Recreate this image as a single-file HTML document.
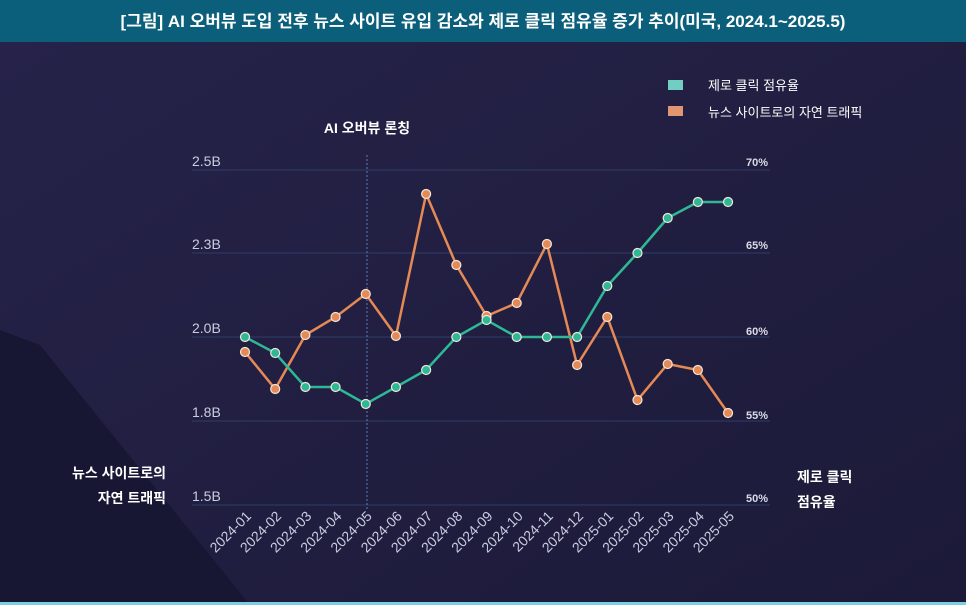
<!DOCTYPE html>
<html><head><meta charset="utf-8"><style>
body{margin:0;width:966px;height:605px;overflow:hidden;background:#1f1d3e;font-family:"Liberation Sans","Noto Sans CJK KR",sans-serif}
</style></head><body>
<svg width="966" height="605" xmlns="http://www.w3.org/2000/svg" style="position:absolute;left:0;top:0">
<defs><linearGradient id="bg" x1="0" y1="0" x2="1" y2="1"><stop offset="0" stop-color="#26234a"/><stop offset="1" stop-color="#1c1a38"/></linearGradient></defs>
<rect x="0" y="0" width="966" height="605" fill="url(#bg)"/>
<polygon points="0,330 40,345 250,605 0,605" fill="#181733"/>
<rect x="0" y="0" width="966" height="42" fill="#0b5f7a"/>
<rect x="0" y="602" width="966" height="3" fill="#7ccfe0"/>
<text x="483" y="27" fill="#fff" font-size="17" font-weight="bold" text-anchor="middle">[그림] AI 오버뷰 도입 전후 뉴스 사이트 유입 감소와 제로 클릭 점유율 증가 추이(미국, 2024.1~2025.5)</text>
<g stroke="#2e3d66" stroke-width="1">
<line x1="192" y1="170" x2="770" y2="170"/><line x1="192" y1="253" x2="770" y2="253"/><line x1="192" y1="337" x2="770" y2="337"/><line x1="192" y1="421" x2="770" y2="421"/><line x1="192" y1="505" x2="770" y2="505"/>
</g>
<line x1="367" y1="155" x2="367" y2="510" stroke="#5d7db8" stroke-width="1" stroke-dasharray="2,2"/>
<g fill="#c9cde0" font-size="14">
<text x="192" y="166">2.5B</text><text x="192" y="249">2.3B</text><text x="192" y="333">2.0B</text><text x="192" y="417">1.8B</text><text x="192" y="501">1.5B</text>
</g>
<g fill="#d8dbe8" font-size="11" font-weight="bold" text-anchor="end">
<text x="768" y="166">70%</text><text x="768" y="249">65%</text><text x="768" y="335">60%</text><text x="768" y="419">55%</text><text x="768" y="502">50%</text>
</g>
<text x="367" y="133" fill="#fff" font-size="14" font-weight="bold" text-anchor="middle">AI 오버뷰 론칭</text>
<g fill="#fff" font-size="14" font-weight="bold" text-anchor="end">
<text x="166" y="478">뉴스 사이트로의</text><text x="166" y="503">자연 트래픽</text>
</g>
<g fill="#fff" font-size="14" font-weight="bold">
<text x="797" y="482">제로 클릭</text><text x="797" y="507">점유율</text>
</g>
<rect x="668" y="80" width="15" height="10" fill="#72cdc2"/>
<text x="708" y="90" fill="#fff" font-size="13">제로 클릭 점유율</text>
<rect x="668" y="106" width="15" height="10" fill="#e09670"/>
<text x="708" y="117" fill="#fff" font-size="13">뉴스 사이트로의 자연 트래픽</text>
<g id="lines"></g>
<g id="labels" fill="#c9cde0" font-size="14"></g>
</svg>
<script>
var g=[337,353,387,387,404,387,370,337,320,337,337,337,286,253,218,202,202];
var o=[352,389,335,317,294,336,194,265,316,303,244,365,317,400,364,370,413];
var labs=["2024-01","2024-02","2024-03","2024-04","2024-05","2024-06","2024-07","2024-08","2024-09","2024-10","2024-11","2024-12","2025-01","2025-02","2025-03","2025-04","2025-05"];
var ns="http://www.w3.org/2000/svg",L=document.getElementById('lines'),T=document.getElementById('labels');
function X(i){return 245+i*30.19;}
function draw(a,c){var p=a.map(function(y,i){return X(i)+","+y}).join(" ");
var pl=document.createElementNS(ns,"polyline");pl.setAttribute("points",p);pl.setAttribute("fill","none");pl.setAttribute("stroke",c);pl.setAttribute("stroke-width","2.5");L.appendChild(pl);
a.forEach(function(y,i){var ci=document.createElementNS(ns,"circle");ci.setAttribute("cx",X(i));ci.setAttribute("cy",y);ci.setAttribute("r","4.5");ci.setAttribute("fill",c);ci.setAttribute("stroke","#f4e6dc");ci.setAttribute("stroke-width","1.2");L.appendChild(ci);});}
draw(o,"#e58a55");draw(g,"#2fb896");
labs.forEach(function(s,i){var t=document.createElementNS(ns,"text");var x=X(i)+7,y=517;t.setAttribute("x",x);t.setAttribute("y",y);t.setAttribute("text-anchor","end");t.setAttribute("transform","rotate(-45 "+x+" "+y+")");t.textContent=s;T.appendChild(t);});
</script>
</body></html>
